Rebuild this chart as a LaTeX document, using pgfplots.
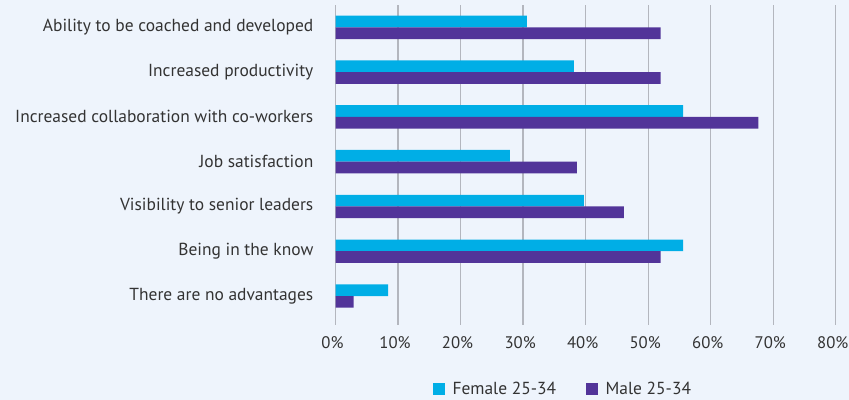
\documentclass[border=0pt]{standalone}
\usepackage{pgfplots}
\pgfplotsset{compat=1.18}
\usepackage{fontspec}
\setmainfont{PT Sans}
\definecolor{bg}{HTML}{EEF4FC}
\definecolor{fem}{HTML}{00AEE6}
\definecolor{mal}{HTML}{523499}
\definecolor{gridc}{HTML}{B3B6BE}
\definecolor{txt}{HTML}{333333}
\begin{document}
\begin{tikzpicture}
\fill[bg] (0,0) rectangle (849bp,400bp);
\begin{axis}[
  at={(335.5bp,75.2bp)}, anchor=south west,
  scale only axis, width=500.3bp, height=319.8bp,
  xmin=0, xmax=80, ymin=-0.643, ymax=6.5,
  xbar, bar width=11.7bp,
  axis line style={draw=none},
  major tick length=0pt,
  xmajorgrids, grid style={gridc, line width=1.3bp},
  xtick={0,10,...,80},
  xticklabel={\pgfmathprintnumber{\tick}\%},
  /pgf/number format/assume math mode=true,
  ytick={0,...,6},
  yticklabels={There are no advantages, Being in the know, Visibility to senior leaders, Job satisfaction, Increased collaboration with co-workers, Increased productivity, Ability to be coached and developed},
  yticklabel style={inner sep=0pt, anchor=east, xshift=-22bp, font=\fontsize{17.5}{19}\selectfont, text=txt},
  xticklabel style={inner sep=0pt, anchor=north, xshift=-3bp, yshift=-11.5bp, font=\fontsize{16.8}{18}\selectfont, text=txt},
  legend columns=2,
  legend style={at={(0.4547,-0.2)}, anchor=center, draw=none, fill=none, inner sep=0pt,
    font=\fontsize{17.5}{19}\selectfont, text=txt,
    /tikz/every even column/.append style={column sep=28bp}},
  legend image code/.code={\fill[#1, draw=none] (0bp,-6bp) rectangle (12bp,6bp); \path (17.6bp,0);},
]
\addplot[fill=fem, draw=none, bar shift=5.85bp] coordinates {
(8.4,0) (55.6,1) (39.7,2) (27.9,3) (55.6,4) (38.1,5) (30.6,6)};
\addlegendentry{Female 25-34}
\addplot[fill=mal, draw=none, bar shift=-5.85bp] coordinates {
(2.9,0) (52.0,1) (46.1,2) (38.6,3) (67.6,4) (52.0,5) (52.0,6)};
\addlegendentry{Male 25-34}
\end{axis}
\pgfresetboundingbox
\path (0,0) rectangle (849bp,400bp);
\end{tikzpicture}
\end{document}
